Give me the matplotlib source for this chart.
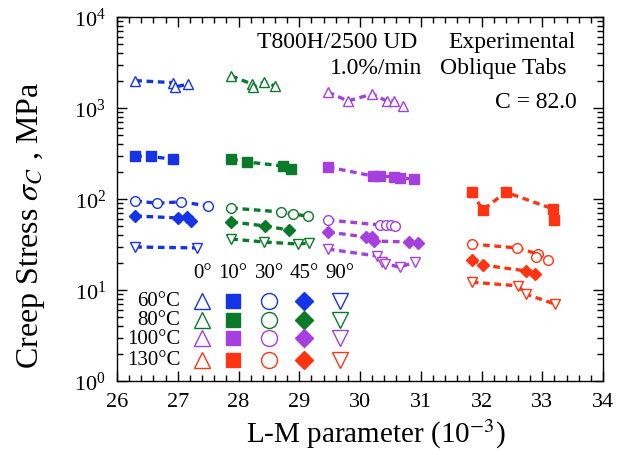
import numpy as np
import matplotlib
matplotlib.use("Agg")
from matplotlib import pyplot as plt
from matplotlib.ticker import MultipleLocator, LogLocator, NullFormatter

plt.rcParams['font.family'] = ['Liberation Serif', 'DejaVu Serif']
plt.rcParams['mathtext.fontset'] = 'stix'

angles = ['0°', '10°', '30°', '45°', '90°']
temps = ['60°C', '80°C', '100°C', '130°C']
colors = ['#1434e6', '#0a7a2a', '#a53fe0', '#ff3412']
markers = ['^', 's', 'o', 'D', 'v']
filled = [False, True, False, True, False]

# L-M parameter (1e-3) and creep stress (MPa), per angle
t60 = {
    '0°': ([26.30, 26.92, 26.95, 27.17], [2000, 1900, 1700, 1830]),
    '10°': ([26.30, 26.56, 26.92], [296, 294, 273]),
    '30°': ([26.30, 26.66, 27.05, 27.50], [95, 90, 93, 84]),
    '45°': ([26.30, 27.00, 27.15, 27.22], [65, 62, 63, 58]),
    '90°': ([26.30, 27.32], [29.7, 29.0]),
}
t80 = {
    '0°': ([27.88, 28.22, 28.24, 28.42, 28.60], [2250, 1835, 1700, 1930, 1745]),
    '10°': ([27.88, 28.14, 28.73, 28.86], [275, 255, 231, 214]),
    '30°': ([27.88, 28.70, 28.90, 29.14], [79.6, 72, 68, 65]),
    '45°': ([27.88, 28.44, 28.83], [56, 50.5, 45.6]),
    '90°': ([27.88, 28.42, 28.98, 29.16], [36.3, 33.7, 32.0, 32.8]),
}
t100 = {
    '0°': ([29.47, 29.80, 30.20, 30.44, 30.56, 30.71], [1500, 1195, 1425, 1195, 1195, 1050]),
    '10°': ([29.47, 30.21, 30.33, 30.56, 30.66, 30.89], [225, 179, 179, 175, 170, 166]),
    '30°': ([29.47, 30.33, 30.43, 30.51, 30.58], [58.8, 51.8, 51.8, 51.8, 50.5]),
    '45°': ([29.47, 30.10, 30.20, 30.23, 30.81, 30.96], [43.4, 38.2, 38.2, 34.5, 33.7, 32.8]),
    '90°': ([29.47, 30.28, 30.36, 30.41, 30.66, 30.91], [28.2, 23.6, 20.3, 19.3, 17.9, 20.3]),
}
t130 = {
    '0°': ([], []),
    '10°': ([31.84, 32.02, 32.40, 33.18, 33.19], [119, 75.7, 119, 77.6, 58.8]),
    '30°': ([31.84, 32.58, 32.93, 32.90, 33.09], [32, 29, 24.9, 23, 21.4]),
    '45°': ([31.84, 32.02, 32.73, 32.88], [21.4, 18.8, 16.2, 15.0]),
    '90°': ([31.84, 32.60, 32.73, 33.21], [12.2, 11.1, 9.0, 7.0]),
}
groups = [t60, t80, t100, t130]

fig = plt.figure(figsize=(6.38, 4.56), dpi=100)
ax = fig.add_axes([0.1834, 0.1623, 0.7618, 0.7982])

for g, c in zip(groups, colors):
    for a, m, f in zip(angles, markers, filled):
        x, y = g[a]
        if not x:
            continue
        ax.plot(x, y, color=c, ls=(0, (2, 1.4)), lw=2.4,
                marker=m, ms=7 if m != 'D' else 6, mew=1.0,
                mfc=c if f else 'white', mec=c, zorder=3)

ax.set_xlim(26, 34)
ax.set_yscale('log')
ax.set_ylim(1, 1e4)
ax.xaxis.set_major_locator(MultipleLocator(1))
ax.xaxis.set_minor_locator(MultipleLocator(0.2))
ax.yaxis.set_major_locator(LogLocator(base=10, numticks=10))
ax.yaxis.set_minor_locator(LogLocator(base=10, subs=np.arange(2, 10), numticks=10))
ax.yaxis.set_minor_formatter(NullFormatter())
ax.tick_params(which='both', direction='in', top=True, right=True, labelsize=16, width=1.0)
ax.tick_params(which='major', length=7, pad=8)
ax.tick_params(which='minor', length=4)
for s in ax.spines.values():
    s.set_linewidth(1.0)

ax.set_xlabel('L-M parameter (10$^{-3}$)', fontsize=21)
ax.xaxis.set_label_coords(0.533, -0.097)
ax.set_ylabel(r'Creep Stress $\sigma_C$ , MPa', fontsize=23)
ax.yaxis.set_label_coords(-0.145, 0.431)

# annotations
ax.text(0.617, 0.934, 'T800H/2500 UD', transform=ax.transAxes, ha='right', va='center', fontsize=17)
ax.text(0.628, 0.860, '1.0%/min', transform=ax.transAxes, ha='right', va='center', fontsize=17)
ax.text(0.813, 0.934, 'Experimental', transform=ax.transAxes, ha='center', va='center', fontsize=17)
ax.text(0.795, 0.860, 'Oblique Tabs', transform=ax.transAxes, ha='center', va='center', fontsize=17)
ax.text(0.946, 0.769, 'C = 82.0', transform=ax.transAxes, ha='right', va='center', fontsize=17)

# marker legend table
col_x = [0.175, 0.239, 0.313, 0.385, 0.459]
row_y = [0.220, 0.168, 0.118, 0.058]
for cx, a in zip(col_x, angles):
    ax.text(cx, 0.297, a, transform=ax.transAxes, ha='center', va='center', fontsize=15)
for ry, t, c in zip(row_y, temps, colors):
    ax.text(0.130, ry, t, transform=ax.transAxes, ha='right', va='center', fontsize=15)
    for cx, m, f in zip(col_x, markers, filled):
        ms = {'^': 11, 's': 10.5, 'o': 11.5, 'D': 9.5, 'v': 11}[m]
        ax.plot([cx], [ry], transform=ax.transAxes, ls='none', marker=m,
                ms=ms, mew=1.0, mfc=c if f else 'none', mec=c, clip_on=False)

fig.savefig('out.png', dpi=100)
